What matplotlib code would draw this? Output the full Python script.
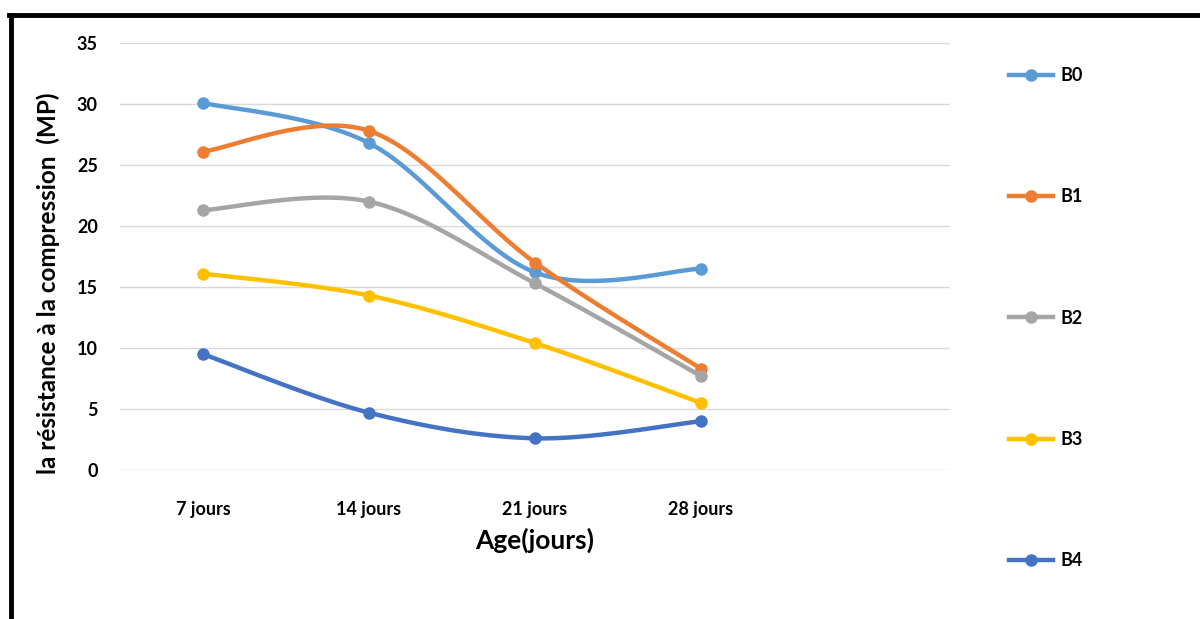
import numpy as np
import matplotlib.pyplot as plt
from matplotlib.lines import Line2D

plt.rcParams['font.family'] = ['Lato', 'DejaVu Sans']
plt.rcParams['font.weight'] = 'bold'

# data
ages = ["7 jours", "14 jours", "21 jours", "28 jours"]
b0 = [30.1, 26.8, 16.2, 16.5]
b1 = [26.1, 27.8, 17.0, 8.3]
b2 = [21.3, 22.0, 15.3, 7.7]
b3 = [16.1, 14.3, 10.4, 5.5]
b4 = [9.5, 4.7, 2.6, 4.0]
series_names = ["B0", "B1", "B2", "B3", "B4"]
colors = ["#5B9BD5", "#ED7D31", "#A5A5A5", "#FFC000", "#4472C4"]


def smooth(xs, ys, n=40):
    # excel-like smoothed line (catmull-rom through the points)
    p = np.column_stack([xs, ys]).astype(float)
    pp = np.vstack([p[0], p, p[-1]])
    out = []
    for i in range(len(p) - 1):
        p0, p1, p2, p3 = pp[i], pp[i + 1], pp[i + 2], pp[i + 3]
        c1 = p1 + (p2 - p0) / 6
        c2 = p2 - (p3 - p1) / 6
        t = np.linspace(0, 1, n)[:, None]
        seg = ((1 - t) ** 3) * p1 + 3 * ((1 - t) ** 2) * t * c1 + 3 * (1 - t) * t ** 2 * c2 + t ** 3 * p2
        out.append(seg if i == 0 else seg[1:])
    out = np.vstack(out)
    return out[:, 0], out[:, 1]


fig = plt.figure(figsize=(12, 6.19), dpi=100)
ax = fig.add_axes([0.1, 0.2407, 0.6917, 0.6898])

x = np.arange(len(ages))
handles = []
for name, vals, c in zip(series_names, [b0, b1, b2, b3, b4], colors):
    sx, sy = smooth(x, vals)
    ax.plot(sx, sy, color=c, lw=3.2, solid_capstyle='round')
    ax.plot(x, vals, 'o', color=c, ms=8)
    handles.append(Line2D([], [], color=c, lw=3.2, marker='o', ms=8, label=name))

ax.set_xlim(-0.5, 4.5)
ax.set_ylim(0, 35)
ax.set_yticks(range(0, 36, 5))
ax.set_xticks(x)
ax.set_xticklabels(ages)
ax.tick_params(axis='both', length=0, labelsize=13)
ax.tick_params(axis='x', pad=22)
ax.tick_params(axis='y', pad=16)
ax.grid(axis='y', color='#D9D9D9', lw=1)
ax.set_axisbelow(True)
for s in ax.spines.values():
    s.set_visible(False)

ax.set_xlabel("Age(jours)", fontsize=19, fontweight='bold', labelpad=7)
ax.set_ylabel("la résistance à la compression  (MP)", fontsize=17.5, fontweight='bold')
ax.yaxis.set_label_coords(-0.0725, 0.438)

fig.legend(handles=handles, loc='upper left', bbox_to_anchor=(0.8408, 0.892),
           frameon=False, fontsize=13, labelspacing=5.78, handlelength=2.44,
           handletextpad=0.39, borderaxespad=0, borderpad=0)

# black frame on the left and top
fig.add_artist(Line2D([0.0092, 0.0092], [0, 0.9758], color='black', lw=3.5, transform=fig.transFigure))
fig.add_artist(Line2D([0.0075, 1.0], [0.9758, 0.9758], color='black', lw=3.5, transform=fig.transFigure))

fig.savefig('out.png', dpi=100)
